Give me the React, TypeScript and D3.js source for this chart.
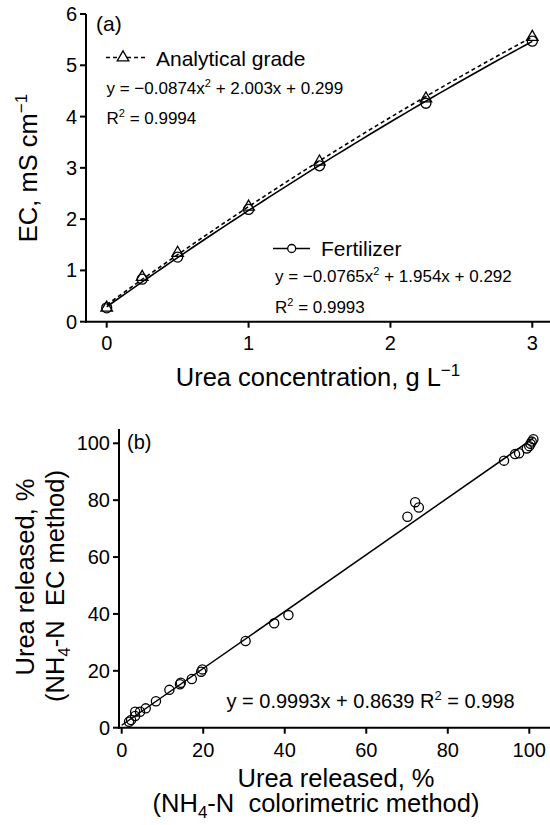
import React from "react";
import * as d3 from "d3";

// ---------- Data: panel (a) ----------
const ureaConc = [0, 0.25, 0.5, 1, 1.5, 2.25, 3];
const ecAnalytical = [0.27, 0.87, 1.34, 2.24, 3.12, 4.35, 5.55];
const ecFertilizer = [0.27, 0.83, 1.26, 2.19, 3.04, 4.26, 5.47];
const fitAnalytical = [-0.0874, 2.003, 0.299]; // a x^2 + b x + c
const fitFertilizer = [-0.0765, 1.954, 0.292];
const ticksAX = [0, 1, 2, 3];
const ticksAY = [0, 1, 2, 3, 4, 5, 6];

// ---------- Data: panel (b) ----------
const releasedColorimetric = [1.8, 2.3, 3.3, 3.3, 4.5, 5.9, 8.4, 11.7, 14.3, 14.5, 17.2, 19.5, 19.8, 30.4, 37.4, 40.9, 70.1, 72.0, 72.9, 93.8, 96.5, 97.5, 99.4, 100.0, 100.3, 100.6, 101.0];
const releasedEC = [2.1, 2.7, 4.1, 5.6, 5.6, 6.8, 9.3, 13.3, 15.3, 15.8, 17.1, 19.7, 20.5, 30.5, 36.7, 39.6, 74.2, 79.3, 77.4, 93.9, 96.2, 96.5, 98.2, 99.0, 99.8, 100.6, 101.4];
const fitB = [0.9993, 0.8639]; // slope, intercept
const ticksB = [0, 20, 40, 60, 80, 100];

const FONT = "'Liberation Sans', Arial, Helvetica, sans-serif";
const LABEL = 25.5;

export default function App() {
  // scales
  const xA = d3.scaleLinear().domain([0, 3]).range([106.7, 532.3]);
  const yA = d3.scaleLinear().domain([0, 6]).range([321.7, 14]);
  const xB = d3.scaleLinear().domain([0, 100]).range([121.7, 529.3]);
  const yB = d3.scaleLinear().domain([0, 100]).range([727.7, 443.3]);

  const poly = (c: number[]) => (x: number) => c[0] * x * x + c[1] * x + c[2];
  const samples = d3.range(0, 3.0001, 0.05);
  const lineA = d3
    .line<number>()
    .x((d) => xA(d))
    .y((d) => yA(poly(fitAnalytical)(d)));
  const lineF = d3
    .line<number>()
    .x((d) => xA(d))
    .y((d) => yA(poly(fitFertilizer)(d)));
  const bLine = d3
    .line<number>()
    .x((d) => xB(d))
    .y((d) => yB(fitB[0] * d + fitB[1]));
  const tri = d3.symbol(d3.symbolTriangle, 58)()!;

  const axA = { x0: 86, yAxisTop: 14, xEnd: 550 };
  const axB = { x0: 119, yAxisTop: 429, xEnd: 550 };
  const tick = 6;

  return (
    <svg
      width={550}
      height={825}
      style={{ position: "absolute", left: 0, top: 0, background: "#fff" }}
      fontFamily={FONT}
    >
      <rect x={0} y={0} width={550} height={825} fill="#fff" />
      {/* ================= Panel (a) ================= */}
      <g stroke="#000" strokeWidth={2} fill="none">
        <line x1={axA.x0} x2={axA.x0} y1={axA.yAxisTop} y2={yA(0) + 1} />
        <line x1={axA.x0 - 1} x2={axA.xEnd} y1={yA(0)} y2={yA(0)} />
        {ticksAY.map((t) => (
          <line key={"ay" + t} x1={axA.x0 - tick} x2={axA.x0} y1={yA(t)} y2={yA(t)} />
        ))}
        {ticksAX.map((t) => (
          <line key={"ax" + t} x1={xA(t)} x2={xA(t)} y1={yA(0)} y2={yA(0) + tick} />
        ))}
      </g>
      <g fontSize={20} fill="#000">
        {ticksAY.map((t) => (
          <text key={"aty" + t} x={axA.x0 - tick - 3} y={yA(t) + 7} textAnchor="end">
            {t}
          </text>
        ))}
        {ticksAX.map((t) => (
          <text key={"atx" + t} x={xA(t)} y={350} textAnchor="middle">
            {t}
          </text>
        ))}
      </g>
      {/* axis titles */}
      <text
        transform={`translate(37,168) rotate(-90)`}
        textAnchor="middle"
        fontSize={LABEL}
        fill="#000"
      >
        EC, mS cm
        <tspan dy={-10} fontSize={17}>
          −1
        </tspan>
      </text>
      <text x={318} y={386} textAnchor="middle" fontSize={LABEL} fill="#000">
        Urea concentration, g L
        <tspan dy={-10} fontSize={17}>
          −1
        </tspan>
      </text>

      {/* fit curves */}
      <path d={lineF(samples)!} stroke="#000" strokeWidth={1.6} fill="none" />
      <path
        d={lineA(samples)!}
        stroke="#000"
        strokeWidth={1.6}
        strokeDasharray="4,3"
        fill="none"
        transform="translate(0,-1.5)"
      />
      {/* markers */}
      {ureaConc.map((x, i) => (
        <circle
          key={"fc" + i}
          cx={xA(x)}
          cy={yA(ecFertilizer[i])}
          r={5}
          fill="none"
          stroke="#000"
          strokeWidth={1.3}
        />
      ))}
      {ureaConc.map((x, i) => (
        <path
          key={"at" + i}
          d={tri}
          transform={`translate(${xA(x)},${yA(ecAnalytical[i])})`}
          fill="none"
          stroke="#000"
          strokeWidth={1.3}
        />
      ))}

      {/* panel label & legends */}
      <text x={96} y={31} fontSize={21} fill="#000">
        (a)
      </text>
      <line x1={106} x2={146} y1={57.5} y2={57.5} stroke="#000" strokeWidth={1.6} strokeDasharray="4,3" />
      <path d={tri} transform="translate(123,57.5)" fill="#fff" stroke="#000" strokeWidth={1.3} />
      <text x={156} y={65.7} fontSize={21} fill="#000">
        Analytical grade
      </text>
      <text x={106.5} y={94} fontSize={17} fill="#000">
        y = −0.0874x
        <tspan dy={-7} fontSize={11}>
          2
        </tspan>
        <tspan dy={7}> + 2.003x + 0.299</tspan>
      </text>
      <text x={106.5} y={124} fontSize={17} fill="#000">
        R
        <tspan dy={-7} fontSize={11}>
          2
        </tspan>
        <tspan dy={7}> = 0.9994</tspan>
      </text>

      <line x1={273} x2={310} y1={248.5} y2={248.5} stroke="#000" strokeWidth={1.6} />
      <circle cx={291.7} cy={248.5} r={4} fill="#fff" stroke="#000" strokeWidth={1.3} />
      <text x={321} y={256} fontSize={21} fill="#000">
        Fertilizer
      </text>
      <text x={275} y={281.7} fontSize={17} fill="#000">
        y = −0.0765x
        <tspan dy={-7} fontSize={11}>
          2
        </tspan>
        <tspan dy={7}> + 1.954x + 0.292</tspan>
      </text>
      <text x={275} y={313} fontSize={17} fill="#000">
        R
        <tspan dy={-7} fontSize={11}>
          2
        </tspan>
        <tspan dy={7}> = 0.9993</tspan>
      </text>

      {/* ================= Panel (b) ================= */}
      <g stroke="#000" strokeWidth={2} fill="none">
        <line x1={axB.x0} x2={axB.x0} y1={axB.yAxisTop} y2={yB(0) + 1} />
        <line x1={axB.x0 - 1} x2={axB.xEnd} y1={yB(0)} y2={yB(0)} />
        {ticksB.map((t) => (
          <line key={"by" + t} x1={axB.x0 - tick} x2={axB.x0} y1={yB(t)} y2={yB(t)} />
        ))}
        {ticksB.map((t) => (
          <line key={"bx" + t} x1={xB(t)} x2={xB(t)} y1={yB(0)} y2={yB(0) + tick} />
        ))}
      </g>
      <g fontSize={20} fill="#000">
        {ticksB.map((t) => (
          <text key={"bty" + t} x={axB.x0 - tick - 3} y={yB(t) + 7} textAnchor="end">
            {t}
          </text>
        ))}
        {ticksB.map((t) => (
          <text key={"btx" + t} x={xB(t)} y={756.5} textAnchor="middle">
            {t}
          </text>
        ))}
      </g>
      <text transform="translate(33.5,577) rotate(-90)" textAnchor="middle" fontSize={LABEL} fill="#000">
        Urea released, %
      </text>
      <text
        transform="translate(63.5,586) rotate(-90)"
        textAnchor="middle"
        fontSize={LABEL}
        fill="#000"
        style={{ whiteSpace: "pre" }}
      >
        (NH
        <tspan dy={6} fontSize={17}>
          4
        </tspan>
        <tspan dy={-6}>-N  EC method)</tspan>
      </text>
      <text x={336} y={786.5} textAnchor="middle" fontSize={LABEL} fill="#000">
        Urea released, %
      </text>
      <text x={316} y={812} textAnchor="middle" fontSize={LABEL} fill="#000" style={{ whiteSpace: "pre" }}>
        (NH
        <tspan dy={6} fontSize={17}>
          4
        </tspan>
        <tspan dy={-6}>-N  colorimetric method)</tspan>
      </text>

      <path d={bLine([0, 101])!} stroke="#000" strokeWidth={1.5} fill="none" />
      {releasedColorimetric.map((x, i) => (
        <circle
          key={"bc" + i}
          cx={xB(x)}
          cy={yB(releasedEC[i])}
          r={4.6}
          fill="none"
          stroke="#000"
          strokeWidth={1.3}
        />
      ))}
      <text x={127} y={449} fontSize={20} fill="#000">
        (b)
      </text>
      <text x={226.5} y={708} fontSize={20} fill="#000">
        y = 0.9993x + 0.8639 R
        <tspan dy={-8} fontSize={13}>
          2
        </tspan>
        <tspan dy={8}> = 0.998</tspan>
      </text>
    </svg>
  );
}
